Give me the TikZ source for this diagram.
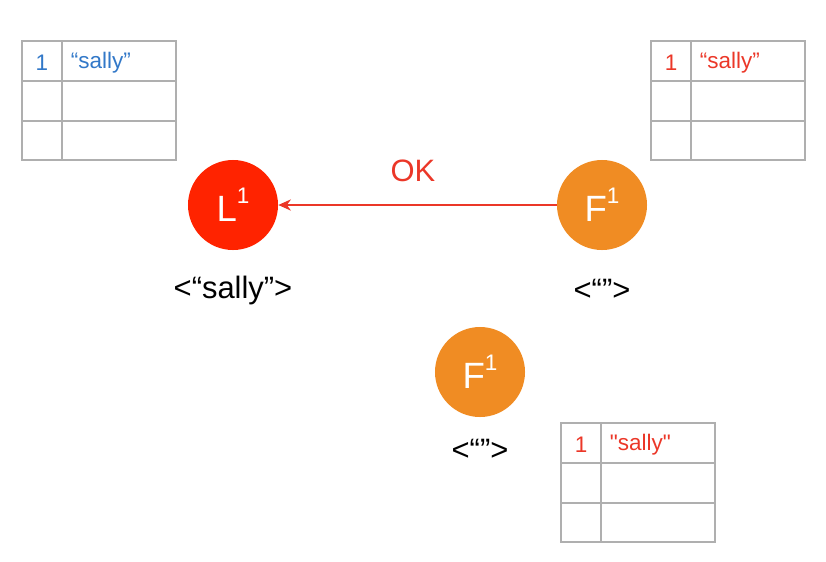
\documentclass[tikz,border=0pt]{standalone}
\usepackage{fontspec}
\setmainfont{Liberation Sans}
\newfontfamily\rawfont{Liberation Sans}
\usetikzlibrary{arrows.meta}
\definecolor{lred}{RGB}{255,35,0}
\definecolor{forange}{RGB}{240,140,35}
\definecolor{tblue}{RGB}{50,120,200}
\definecolor{tred}{RGB}{235,55,40}
\definecolor{tgray}{RGB}{175,175,175}
\newcommand{\termidx}[1]{\raisebox{0.5em}{\fontsize{16}{16}\selectfont #1}}
\begin{document}
\begin{tikzpicture}[x=0.025cm,y=-0.025cm]
\tikzstyle{leader}=[shape=circle,fill=lred,minimum size=2.25cm,inner sep=0pt,text=white,font=\fontsize{26}{30}\selectfont]
\tikzstyle{follower}=[leader,fill=forange]
\tikzstyle{grid}=[draw=tgray,line width=0.8pt]
\tikzstyle{entry}=[font=\fontsize{16}{19}\selectfont]
\tikzstyle{state}=[font=\fontsize{22}{26}\selectfont]

\useasboundingbox (0,0) rectangle (826,561);

\node[leader] at (233,205) (l1) {L\termidx{1}};
\node[follower] at (602,205) (f1) {F\termidx{1}};
\node[follower] at (480,372) (f2) {F\termidx{1}};

\node[state] at (233,290) (l1log) {<“sally”>};
\node[state] at (602,290) (f1log) {<“”>};
\node[state] at (480,450) (f2log) {<“”>};

\draw[tred,line width=1.3pt,-{Stealth[length=9pt,width=8pt]}] (f1) -- (l1);
\node[state,text=tred] at (413,171) (ok) {OK};

% logs
\foreach \tx/\ty/\tc/\tn/\tv in {22/41/tblue/la/“sally”, 651/41/tred/fa/“sally”, 561/423/tred/fb/{\rawfont "sally"}}{
  \draw[grid] (\tx,\ty) rectangle ++(154,119);
  \draw[grid] (\tx+40,\ty) -- ++(0,119);
  \draw[grid] (\tx,\ty+40) -- ++(154,0);
  \draw[grid] (\tx,\ty+80) -- ++(154,0);
  \node[entry,text=\tc] at (\tx+20,\ty+22) (\tn key) {1};
  \node[entry,text=\tc,anchor=west] at (\tx+44,\ty+22) (\tn val) {\tv};
}
\end{tikzpicture}
\end{document}
